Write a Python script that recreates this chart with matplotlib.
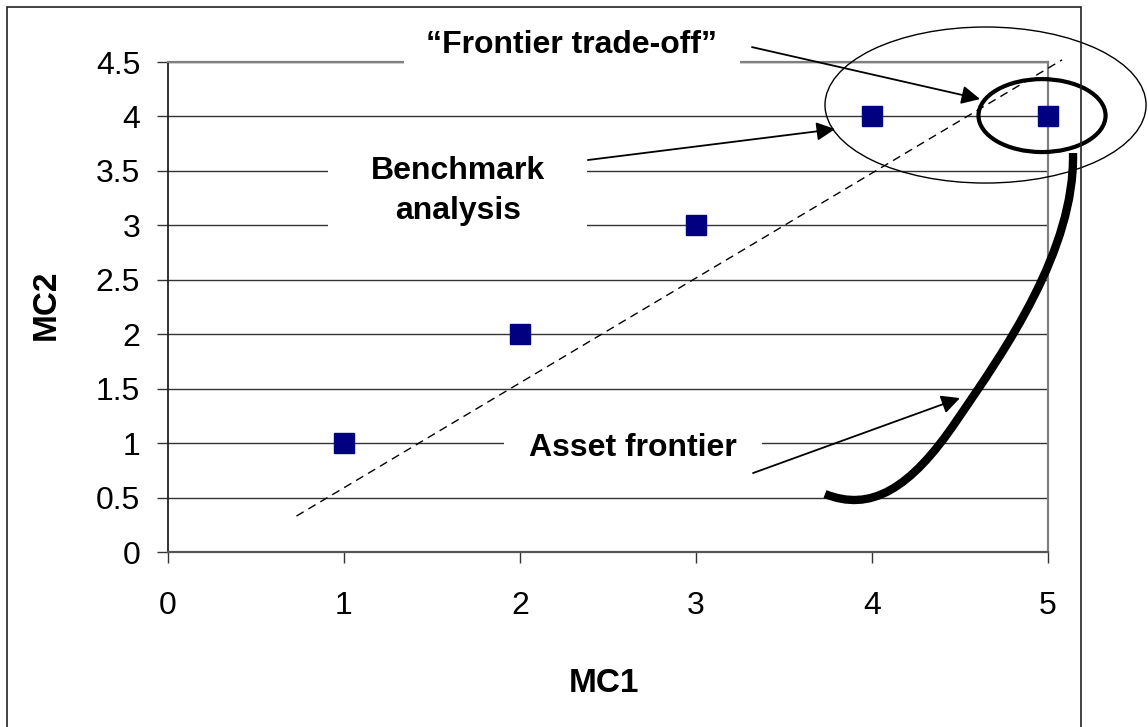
import numpy as np
import matplotlib
matplotlib.use("Agg")
import matplotlib.pyplot as plt
from matplotlib.patches import Ellipse, Rectangle, PathPatch
from matplotlib.path import Path

plt.rcParams['font.family'] = ['Liberation Sans', 'DejaVu Sans']

# data
mc1 = [1, 2, 3, 4, 5]
mc2 = [1, 2, 3, 4, 4]
x_ticks = [0, 1, 2, 3, 4, 5]
y_ticks = [0, 0.5, 1, 1.5, 2, 2.5, 3, 3.5, 4, 4.5]
# dashed reference line (ends)
ref_x = [0.73, 5.08]
ref_y = [0.33, 4.52]

fig = plt.figure(figsize=(11.48, 7.27), dpi=100)
ax = fig.add_axes([0.1463, 0.2407, 0.7666, 0.674])

ax.set_xlim(0, 5)
ax.set_ylim(0, 4.5)
ax.set_xticks(x_ticks)
ax.set_yticks(y_ticks)
ax.set_yticklabels(['{:g}'.format(v) for v in y_ticks])
ax.tick_params(axis='both', labelsize=23, direction='out', length=8, width=1, color='#333333')
ax.tick_params(axis='y', pad=12)
ax.tick_params(axis='x', pad=20)

ax.set_axisbelow(True)
ax.grid(axis='y', color='#333333', lw=1)
ax.spines['top'].set_color('#808080')
ax.spines['right'].set_color('#808080')
ax.spines['top'].set_linewidth(1.6)
ax.spines['right'].set_linewidth(1.6)
ax.spines['left'].set_color('#222222')
ax.spines['left'].set_linewidth(1.3)
ax.spines['bottom'].set_color('#555555')
ax.spines['bottom'].set_linewidth(1.6)

ax.set_xlabel('MC1', fontsize=24, fontweight='bold')
ax.set_ylabel('MC2', fontsize=24, fontweight='bold')
ax.xaxis.set_label_coords(0.495, -0.237)
ax.yaxis.set_label_coords(-0.1205, 0.504)

# labels with white boxes over the gridlines
ax.text(2.295, 4.656, '\u201cFrontier trade-off\u201d', fontsize=23, fontweight='bold',
        ha='center', va='center', zorder=2.6, clip_on=False,
        bbox=dict(boxstyle='square,pad=0.7', fc='white', ec='none'))
ax.add_patch(Rectangle((0.909, 2.865), 1.472, 0.918, fc='white', ec='none', zorder=2.6))
ax.text(1.648, 3.315, 'Benchmark\nanalysis', fontsize=23, fontweight='bold',
        ha='center', va='center', zorder=2.7, linespacing=1.42)
ax.text(2.642, 0.955, 'Asset frontier', fontsize=23, fontweight='bold',
        ha='center', va='center', zorder=2.6,
        bbox=dict(boxstyle='square,pad=0.78', fc='white', ec='none'))

ax.plot(ref_x, ref_y, color='black', lw=1, linestyle=(0, (6, 4)), zorder=3, clip_on=False)

ax.plot(mc1, mc2, linestyle='none', marker='s', markersize=14, color='#000080',
        zorder=5, clip_on=False)

# ellipses
ax.add_patch(Ellipse((4.645, 4.105), 1.824, 1.433, fill=False, ec='black', lw=1,
                     zorder=4, clip_on=False))
ax.add_patch(Ellipse((4.966, 4.008), 0.722, 0.670, fill=False, ec='black', lw=3,
                     zorder=4, clip_on=False))

# thick frontier curve
verts = [(3.733, 0.533), (3.989, 0.367), (4.216, 0.569), (4.483, 1.212),
         (4.756, 1.855), (5.153, 2.773), (5.142, 3.664)]
codes = [Path.MOVETO] + [Path.CURVE4] * 6
ax.add_patch(PathPatch(Path(verts, codes), fill=False, ec='black', lw=6,
                       capstyle='butt', zorder=4, clip_on=False))

# arrows
arrow = dict(arrowstyle='-|>', mutation_scale=28, lw=1.3, color='black',
             shrinkA=0, shrinkB=0)
ax.annotate('', xy=(4.614, 4.160), xytext=(3.318, 4.637), arrowprops=arrow,
            annotation_clip=False, zorder=4)
ax.annotate('', xy=(3.790, 3.884), xytext=(2.386, 3.600), arrowprops=arrow,
            annotation_clip=False, zorder=4)
ax.annotate('', xy=(4.5, 1.414), xytext=(3.324, 0.725), arrowprops=arrow,
            annotation_clip=False, zorder=4)

# outer frame
fig.patches.append(Rectangle((0.0061, -0.01), 0.9356, 1.0004, transform=fig.transFigure,
                             fill=False, ec='#222222', lw=1.2))

fig.savefig('out.png', dpi=100)
